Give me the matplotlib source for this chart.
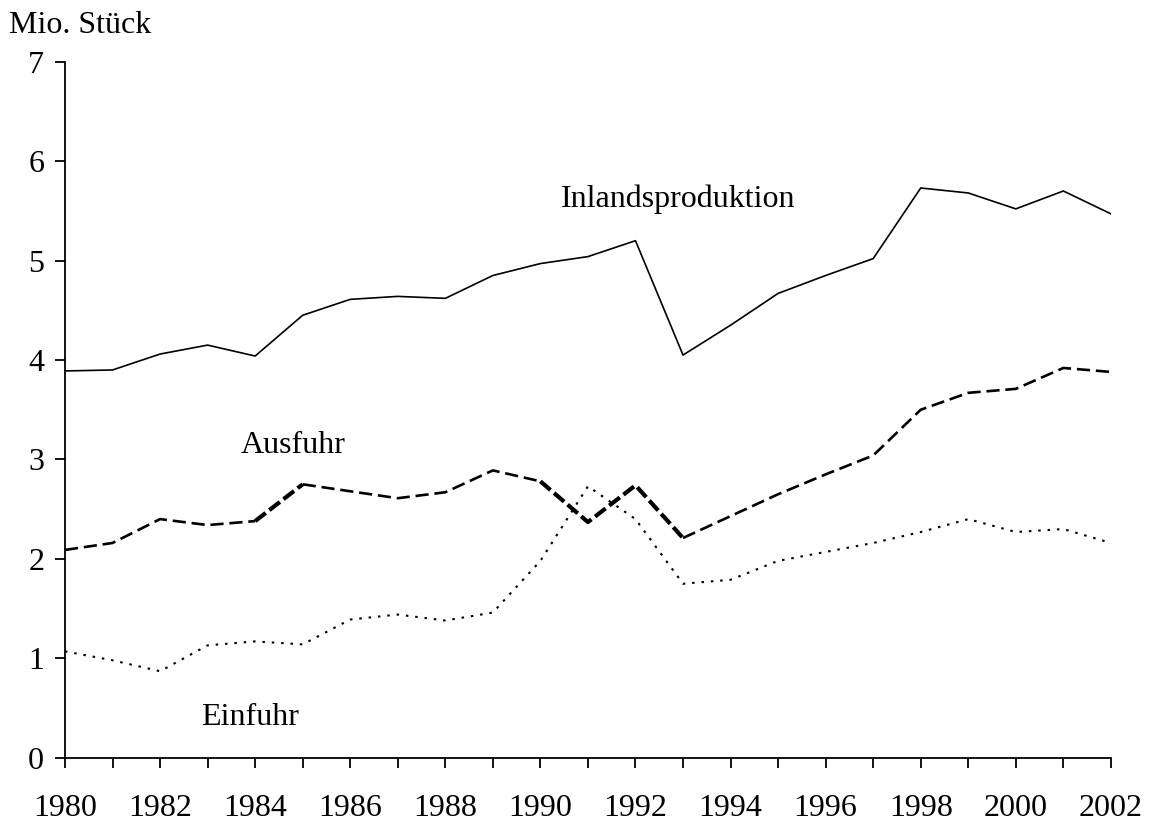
import matplotlib
matplotlib.use("Agg")
import matplotlib.pyplot as plt
import numpy as np

years = list(range(1980, 2003))
inlandsproduktion = [3.89, 3.90, 4.06, 4.15, 4.04, 4.45, 4.61, 4.64, 4.62, 4.85, 4.97, 5.04,
                     5.20, 4.05, 4.35, 4.67, 4.85, 5.02, 5.73, 5.68, 5.52, 5.70, 5.47]
ausfuhr = [2.09, 2.16, 2.40, 2.34, 2.38, 2.75, 2.68, 2.61, 2.67, 2.89, 2.78, 2.37,
           2.74, 2.21, 2.43, 2.65, 2.85, 3.04, 3.50, 3.67, 3.71, 3.92, 3.88]
einfuhr = [1.07, 0.98, 0.87, 1.13, 1.17, 1.14, 1.39, 1.44, 1.38, 1.46, 1.98, 2.73,
           2.40, 1.75, 1.79, 1.98, 2.07, 2.16, 2.27, 2.40, 2.27, 2.30, 2.16]
labels = ["Inlandsproduktion", "Ausfuhr", "Einfuhr"]
yticks = list(range(0, 8))

plt.rcParams['font.family'] = ['Liberation Serif', 'DejaVu Serif']

fig = plt.figure(figsize=(11.5, 8.23), dpi=100)
ax = fig.add_axes([0.0565, 0.0793, 0.966 - 0.0565, 0.925 - 0.0793])

ax.plot(years, inlandsproduktion, color='black', lw=1.2, linestyle='-')

# Ausfuhr: thin dashed portions and bolder dashed portions (as in the source)
thin_parts = [(0, 5), (5, 11), (13, 23)]
bold_parts = [(4, 6), (10, 14)]
for a, b in thin_parts:
    ax.plot(years[a:b], ausfuhr[a:b], color='black', lw=1.9,
            linestyle=(0, (5.0, 2.2)), dash_capstyle='butt')
for a, b in bold_parts:
    ax.plot(years[a:b], ausfuhr[a:b], color='black', lw=3.0,
            linestyle=(0, (3.2, 1.1)), dash_capstyle='butt')

ax.plot(years, einfuhr, color='black', lw=1.5, linestyle=(0, (1.2, 3.3)))

ax.set_xlim(1980, 2002)
ax.set_ylim(0, 7)
ax.set_xticks(years)
ax.set_xticklabels([str(y) if (y - 1980) % 2 == 0 else "" for y in years])
ax.set_yticks(yticks)
ax.tick_params(axis='both', direction='out', length=7, width=1.3, labelsize=23, colors='black')
ax.tick_params(axis='x', pad=19)
ax.tick_params(axis='y', pad=8)
for s in ['top', 'right']:
    ax.spines[s].set_visible(False)
for s in ['left', 'bottom']:
    ax.spines[s].set_linewidth(1.3)

ax.text(1992.9, 5.62, labels[0], fontsize=23, ha='center', va='center')
ax.text(1984.8, 3.14, labels[1], fontsize=23, ha='center', va='center')
ax.text(1983.9, 0.40, labels[2], fontsize=23, ha='center', va='center')

fig.text(0.008, 0.969, "Mio. Stück", fontsize=23, ha='left', va='center')

fig.savefig("out.png", dpi=100)
